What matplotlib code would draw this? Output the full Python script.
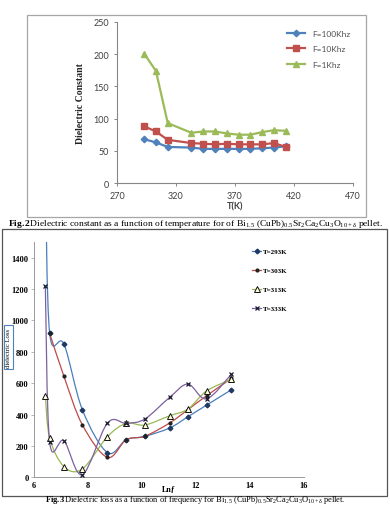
import matplotlib
matplotlib.use("Agg")
import matplotlib.pyplot as plt
from matplotlib.path import Path
from matplotlib.patches import PathPatch, Rectangle
from matplotlib.lines import Line2D

plt.rcParams['mathtext.fontset'] = 'custom'
plt.rcParams['mathtext.rm'] = 'Liberation Serif'
plt.rcParams['mathtext.bf'] = 'Liberation Serif:bold'
plt.rcParams['mathtext.it'] = 'Liberation Serif:italic'
plt.rcParams['mathtext.default'] = 'regular'

# Fig.2 data: dielectric constant vs temperature
temp_k = [293, 303, 313, 333, 343, 353, 363, 373, 383, 393, 403, 413]
eps_100k = [68, 63, 56, 55, 53, 53, 53, 53, 53, 54, 55, 57]
eps_10k = [88, 80, 67, 62, 61, 60, 61, 60, 60, 60, 62, 56]
eps_1k = [201, 174, 93, 78, 80, 80, 77, 75, 75, 79, 82, 81]
top_labels = ["F=100Khz", "F=10Khz", "F=1Khz"]

# Fig.3 data: dielectric loss vs ln f
ln_f = [6.42, 6.58, 7.11, 7.79, 8.72, 9.42, 10.10, 11.02, 11.70, 12.39, 13.31]
loss_293 = [1950, 918, 849, 431, 157, 240, 261, 314, 386, 460, 558]
loss_303 = [918, 643, 335, 127, 240, 261, 346, 431, 520, 630]  # starts at ln_f[1]
loss_313 = [520, 250, 68, 53, 259, 344, 333, 392, 435, 550, 625]
loss_333 = [1220, 225, 233, 17, 346, 344, 371, 509, 594, 500, 657]
bottom_labels = ["T=293K", "T=303K", "T=313K", "T=333K"]

W, H = 390, 506
fig = plt.figure(figsize=(W / 100, H / 100), dpi=100)


def fx(px):
    return px / W


def fy(py):
    return 1 - py / H


def smooth_path(xs, ys):
    # excel-like smoothed line (catmull-rom as cubic bezier)
    pts = list(zip(xs, ys))
    n = len(pts)
    verts = [pts[0]]
    codes = [Path.MOVETO]
    for i in range(n - 1):
        p0 = pts[max(i - 1, 0)]
        p1 = pts[i]
        p2 = pts[i + 1]
        p3 = pts[min(i + 2, n - 1)]
        c1 = (p1[0] + (p2[0] - p0[0]) / 6, p1[1] + (p2[1] - p0[1]) / 6)
        c2 = (p2[0] - (p3[0] - p1[0]) / 6, p2[1] - (p3[1] - p1[1]) / 6)
        verts += [c1, c2, p2]
        codes += [Path.CURVE4] * 3
    return Path(verts, codes)


# ---------- top chart ----------
fig.patches.append(Rectangle((fx(27), fy(218)), fx(339), 202 / H, transform=fig.transFigure,
                             fill=False, edgecolor="#a6a6a6", lw=0.9))
ax1 = fig.add_axes([fx(117), fy(184), fx(236), (184 - 23) / H])
grey = "#868686"
ax1.plot(temp_k, eps_100k, color="#4f81bd", marker="D", ms=3.3, lw=1.6, label=top_labels[0])
ax1.plot(temp_k, eps_10k, color="#c0504d", marker="s", ms=4.6, lw=1.6, label=top_labels[1])
ax1.plot(temp_k, eps_1k, color="#9bbb59", marker="^", ms=4.8, lw=1.6, label=top_labels[2])
ax1.set_xlim(270, 470)
ax1.set_ylim(0, 250)
ax1.set_xticks(range(270, 471, 50))
ax1.set_yticks(range(0, 251, 50))
for s in ["top", "right"]:
    ax1.spines[s].set_visible(False)
for s in ["left", "bottom"]:
    ax1.spines[s].set_color(grey)
    ax1.spines[s].set_linewidth(0.8)
ax1.tick_params(colors=grey, labelcolor="#404040", labelsize=6.5, length=2, width=0.7)
for t in ax1.get_xticklabels() + ax1.get_yticklabels():
    t.set_family("Lato")
ax1.set_xlabel("T(K)", fontsize=6.5, fontweight="bold", family="Lato", color="#404040", labelpad=1)
ax1.set_ylabel("Dielectric Constant", fontsize=7, fontweight="bold", family="Liberation Serif",
               color="#222222", labelpad=6)
leg1 = ax1.legend(loc="upper right", bbox_to_anchor=(1.02, 1.0), frameon=False,
                  handlelength=2.2, labelspacing=1.05, prop={"family": "Lato", "size": 6})
for t in leg1.get_texts():
    t.set_color("#505050")

fig.text(0.5, fy(224), r"$\mathbf{Fig.2}$" + "Dielectric constant as a function of temperature for of "
         r"Bi$_{1.5}$ (CuPb)$_{0.5}$Sr$_2$Ca$_2$Cu$_3$O$_{10+\delta}$ pellet.",
         ha="center", va="center", fontsize=6.8, family="Liberation Serif")

# ---------- bottom chart ----------
fig.patches.append(Rectangle((fx(2), fy(497)), fx(385), (497 - 230) / H, transform=fig.transFigure,
                             fill=False, edgecolor="#555555", lw=0.9))
ax2 = fig.add_axes([fx(34), fy(478.3), fx(270), (478.3 - 243) / H])
ax2.set_xlim(6, 16)
ax2.set_ylim(0, 1500)
ax2.set_xticks(range(6, 17, 2))
ax2.set_yticks(range(0, 1401, 200))

series = [
    (ln_f, loss_293, "#4a7ebb", dict(marker="D", ms=2.4, mfc="#1f3864", mec="#1f3864")),
    (ln_f[1:], loss_303, "#be4b48", dict(marker="o", ms=2.0, mfc="#222222", mec="#222222")),
    (ln_f, loss_313, "#98b954", dict(marker="^", ms=3.8, mfc="#ffffdd", mec="#111111", mew=0.7)),
    (ln_f, loss_333, "#7d60a0", dict(marker="x", ms=3.2, mec="#1a1a2e", mew=0.9)),
]
handles = []
for xs, ys, col, mk in series:
    ax2.add_patch(PathPatch(smooth_path(xs, ys), fill=False, edgecolor=col, lw=0.9, zorder=2))
    ax2.plot(xs, ys, ls="none", zorder=3, clip_on=True, **mk)
    handles.append(Line2D([], [], color=col, lw=0.9, **mk))

for s in ["top", "right"]:
    ax2.spines[s].set_visible(False)
for s in ["left", "bottom"]:
    ax2.spines[s].set_color("#999999")
    ax2.spines[s].set_linewidth(0.7)
ax2.tick_params(axis="y", length=2, width=0.5, colors="#999999", labelcolor="black", labelsize=6, pad=2)
ax2.tick_params(axis="x", length=0, labelcolor="black", labelsize=6, pad=2.5)
for t in ax2.get_xticklabels() + ax2.get_yticklabels():
    t.set_family("Liberation Serif")
    t.set_fontweight("bold")
ax2.set_xlabel("Lnƒ", fontsize=5.8, fontweight="bold", family="Liberation Serif", labelpad=-3.5)
fig.text(fx(8.5), fy(348), "dielectric Loss", rotation=90, ha="center", va="center", fontsize=4.8,
         family="Liberation Serif",
         bbox=dict(boxstyle="square,pad=0.35", fc="white", ec="#4f81bd", lw=0.8))
leg2 = fig.legend(handles, bottom_labels, loc="upper left", bbox_to_anchor=(fx(246), fy(243)),
                  frameon=False, handlelength=1.3, handletextpad=0.2, labelspacing=1.9,
                  prop={"family": "Liberation Serif", "weight": "bold", "size": 5})

fig.text(0.5, fy(502.5), r"$\mathbf{Fig.3}$" + "Dielectric loss as a function of frequency for "
         r"Bi$_{1.5}$ (CuPb)$_{0.5}$Sr$_2$Ca$_2$Cu$_3$O$_{10+\delta}$ pellet.",
         ha="center", va="baseline", fontsize=6.0, family="Liberation Serif")

fig.savefig("out.png", dpi=100)
